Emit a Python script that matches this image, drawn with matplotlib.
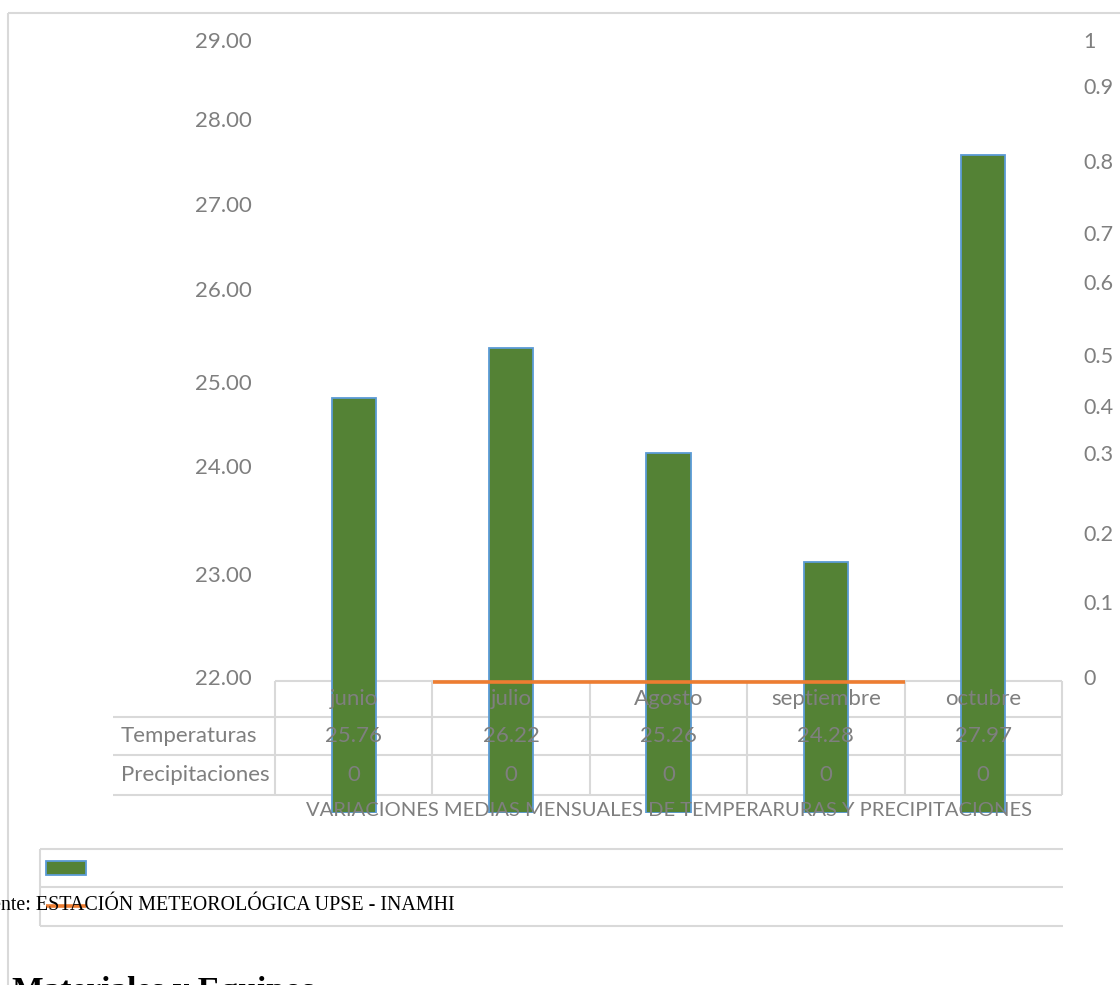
import numpy as np
import matplotlib
matplotlib.use('Agg')
import matplotlib.pyplot as plt
from matplotlib.lines import Line2D
from matplotlib.patches import Rectangle

# datos
meses = ['junio', 'julio', 'Agosto', 'septiembre', 'octubre']
temperaturas = [25.76, 26.22, 25.26, 24.28, 27.97]
precipitaciones = [0, 0, 0, 0, 0]
filas = ['Temperaturas', 'Precipitaciones']
temp_ticks = [22, 23, 24, 25, 26, 27, 28, 29]
prec_ticks = [0, 0.1, 0.2, 0.3, 0.4, 0.5, 0.6, 0.7, 0.8, 0.9, 1]
titulo = 'VARIACIONES MEDIAS MENSUALES DE TEMPERARURAS Y PRECIPITACIONES'
fuente = 'Fuente: ESTACIÓN METEOROLÓGICA UPSE - INAMHI'
siguiente = 'Materiales y Equipos'

W, H = 1120, 985
GRIS = '#7f7f7f'
LINEA = '#d9d9d9'
VERDE = '#548235'
AZUL = '#5b9bd5'
NARANJA = '#ed7d31'

plt.rcParams['font.family'] = ['Lato', 'DejaVu Sans']

fig = plt.figure(figsize=(W / 100, H / 100), dpi=100)


def rect(x0, y0, x1, y1):
    # caja en pixeles (origen arriba izq) -> fracciones de figura
    return [x0 / W, 1 - y1 / H, (x1 - x0) / W, (y1 - y0) / H]


def linea(xs, ys, color=LINEA, lw=1.5, z=-1):
    fig.add_artist(Line2D([x / W for x in xs], [1 - y / H for y in ys],
                          color=color, lw=lw, zorder=z, solid_capstyle='butt'))


def texto(x, y, s, **kw):
    kw.setdefault('color', GRIS)
    kw.setdefault('fontsize', 16)
    kw.setdefault('va', 'center')
    fig.text(x / W, 1 - y / H, s, zorder=5, **kw)


# marco exterior
linea([8, W], [13, 13])
linea([8, 8], [13, H])

# tabla de datos
cols = np.linspace(275, 1062, len(meses) + 1)
linea([275, 1062], [681, 681])
for y in [717, 755, 795]:
    linea([113, 1062], [y, y])
for x in cols:
    linea([x, x], [681, 795])

# barras de temperatura
ax_b = fig.add_axes(rect(275, 41, 1062, 813))
x = np.arange(len(meses))
t = np.array(temperaturas)
ax_b.bar(x, t - 22, bottom=22, width=0.28, color=VERDE, edgecolor=AZUL, linewidth=1.3)
ax_b.set_xlim(-0.5, len(meses) - 0.5)
ax_b.set_ylim(22, 29)
ax_b.axis('off')

# ejes de etiquetas (espaciado irregular como en la imagen)
pos_temp = [677, 574, 466, 382, 289, 204, 119, 40]
pos_prec = [677, 602, 533, 453, 406, 355, 282, 233, 161, 86, 40]
y0, y1 = 40, 677
ft = [(y1 - p) / (y1 - y0) for p in pos_temp]
fp = [(y1 - p) / (y1 - y0) for p in pos_prec]

ax_t = fig.add_axes(rect(275, y0, 1062, y1))
ax_t.set_yscale('function', functions=(lambda v: np.interp(v, temp_ticks, ft),
                                       lambda f: np.interp(f, ft, temp_ticks)))
ax_t.set_ylim(22, 29)
ax_t.set_yticks(temp_ticks)
ax_t.set_yticklabels(['%.2f' % v for v in temp_ticks])
ax_t.tick_params(axis='y', length=0, pad=16.5, labelsize=16, labelcolor=GRIS)
ax_t.set_xticks([])
ax_t.patch.set_visible(False)
for s in ax_t.spines.values():
    s.set_visible(False)

ax_r = ax_t.twinx()
ax_r.set_yscale('function', functions=(lambda v: np.interp(v, prec_ticks, fp),
                                       lambda f: np.interp(f, fp, prec_ticks)))
ax_r.set_ylim(0, 1)
ax_r.set_yticks(prec_ticks)
ax_r.set_yticklabels(['%g' % v for v in prec_ticks])
ax_r.tick_params(axis='y', length=0, pad=15.5, labelsize=15.5, labelcolor=GRIS)
for s in ax_r.spines.values():
    s.set_visible(False)

# linea de precipitaciones
ax_p = fig.add_axes(rect(275, 40, 1062, 682))
i0 = (275 - 433) / 118
ax_p.set_xlim(i0, i0 + 787 / 118)
ax_p.set_ylim(0, 1)
ax_p.plot(x, precipitaciones, color=NARANJA, lw=2.6, clip_on=False, solid_capstyle='butt')
ax_p.axis('off')

# textos de la tabla
centros = (cols[:-1] + cols[1:]) / 2
for c, m, tv, pv in zip(centros, meses, temperaturas, precipitaciones):
    texto(c, 699, m, ha='center')
    texto(c, 736, '%.2f' % tv, ha='center')
    texto(c, 775, '%d' % pv, ha='center')
texto(121, 736, filas[0], ha='left')
texto(121, 775, filas[1], ha='left')
texto(669, 811, titulo, ha='center', fontsize=14.5)

# leyenda
for y in [849, 887, 926]:
    linea([40, 1063], [y, y])
linea([40, 40], [849, 926])
fig.add_artist(Rectangle((46 / W, 1 - 875 / H), 40 / W, 14 / H, facecolor=VERDE,
                         edgecolor=AZUL, lw=1.3, zorder=3))
linea([46, 86], [906, 906], color=NARANJA, lw=2.6, z=3)

# texto del documento
texto(455, 906, fuente, ha='right', color='black', fontsize=14.4,
      family='Liberation Serif')
texto(12, 976, siguiente, ha='left', va='top', color='black', fontsize=24,
      family='Liberation Serif', weight='bold')

fig.savefig('out.png', dpi=100)
